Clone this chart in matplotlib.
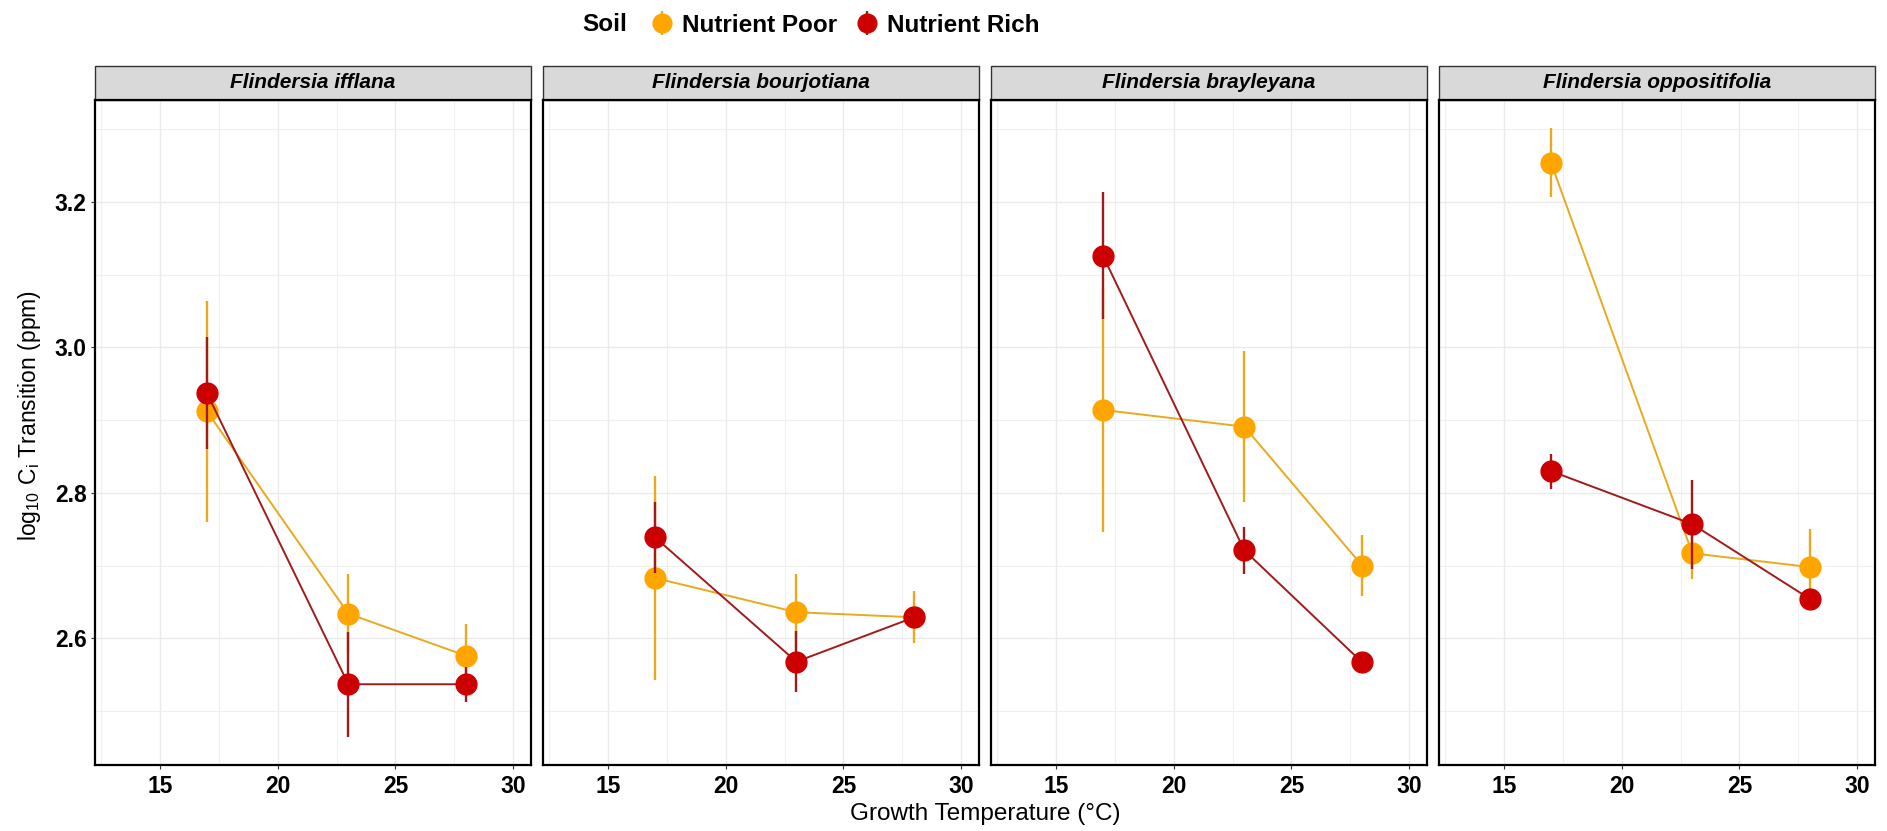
import matplotlib
matplotlib.use("Agg")
import matplotlib.pyplot as plt
from matplotlib.patches import Rectangle
from matplotlib.ticker import MultipleLocator

plt.rcParams['font.family'] = ['Liberation Sans', 'DejaVu Sans']
plt.rcParams['mathtext.default'] = 'regular'

# growth temperatures and species panels
temps = [17, 23, 28]
species = ['Flindersia ifflana', 'Flindersia bourjotiana',
           'Flindersia brayleyana', 'Flindersia oppositifolia']

# log10 Ci transition, mean and standard error per species (rows) and temperature
poor_mean = [[2.912, 2.634, 2.576],
             [2.683, 2.636, 2.629],
             [2.914, 2.891, 2.700],
             [3.254, 2.717, 2.698]]
poor_se = [[0.152, 0.054, 0.044],
           [0.140, 0.052, 0.036],
           [0.168, 0.104, 0.042],
           [0.047, 0.035, 0.052]]
rich_mean = [[2.937, 2.537, 2.537],
             [2.739, 2.568, 2.629],
             [3.126, 2.721, 2.567],
             [2.830, 2.757, 2.654]]
rich_se = [[0.077, 0.072, 0.024],
           [0.049, 0.042, 0.012],
           [0.087, 0.032, 0.005],
           [0.024, 0.061, 0.008]]

soil_labels = ['Nutrient Poor', 'Nutrient Rich']
point_cols = ['#FFA500', '#CC0000']
line_cols = ['#E8AA1E', '#A11B1B']

W, H = 1887, 831
fig = plt.figure(figsize=(W / 100, H / 100), dpi=100)

left0, pw, gap = 95, 436, 12
top, bottom = 100, 765
strip_h = 34

handles = []
for i, sp in enumerate(species):
    x0 = left0 + i * (pw + gap)
    ax = fig.add_axes([x0 / W, 1 - bottom / H, pw / W, (bottom - top) / H])
    series = [(poor_mean[i], poor_se[i]), (rich_mean[i], rich_se[i])]
    for k, (m, s) in enumerate(series):
        ax.plot(temps, m, color=line_cols[k], lw=1.4, zorder=2 + k)
        eb = ax.errorbar(temps, m, yerr=s, fmt='o', ms=15, mfc=point_cols[k],
                         mec=point_cols[k], ecolor=line_cols[k], elinewidth=1.7,
                         capsize=0, zorder=2.5 + k, label=soil_labels[k])
        if i == 0:
            handles.append(eb)

    ax.set_xlim(12.25, 30.75)
    ax.set_ylim(2.426, 3.34)
    ax.xaxis.set_major_locator(MultipleLocator(5))
    ax.xaxis.set_minor_locator(MultipleLocator(2.5))
    ax.yaxis.set_major_locator(MultipleLocator(0.2))
    ax.yaxis.set_minor_locator(MultipleLocator(0.1))
    ax.grid(True, which='major', color='#EBEBEB', lw=1.0)
    ax.grid(True, which='minor', color='#F0F0F0', lw=0.8)
    ax.set_axisbelow(True)
    ax.tick_params(which='minor', length=0)
    ax.tick_params(which='major', length=3, width=0.8, color='#333333',
                   labelsize=16.5, pad=3)
    ax.tick_params(axis='x', pad=4)
    for lab in ax.get_xticklabels() + ax.get_yticklabels():
        lab.set_fontweight('bold')
    if i > 0:
        ax.tick_params(axis='y', labelleft=False, length=0)
    for spine in ax.spines.values():
        spine.set_linewidth(1.6)
        spine.set_color('black')

    # facet strip
    frac = strip_h / (bottom - top)
    ax.add_patch(Rectangle((0, 1), 1, frac, transform=ax.transAxes,
                           facecolor='#D9D9D9', edgecolor='#333333', lw=1.0,
                           clip_on=False))
    ax.text(0.5, 1 + frac / 2, sp, transform=ax.transAxes, ha='center',
            va='center', fontsize=15, fontstyle='italic', fontweight='bold')

    if i == 0:
        ax.set_ylabel(r'$\mathregular{log_{10}\ C_{i}}$ Transition (ppm)',
                      fontsize=16.5)
        # centred on panel plus strip
        ax.yaxis.set_label_coords(-0.12, (1 + frac) / 2)

# axis title centred over the panel area
panels_mid = (left0 + 3 * (pw + gap) + pw + left0) / 2
fig.text(panels_mid / W, 1 - 814 / H, 'Growth Temperature (°C)', ha='center',
         va='center', fontsize=17.5)

fig.text(582 / W, 1 - 22 / H, 'Soil', ha='left', va='center_baseline',
         fontsize=17.5, fontweight='bold')
leg = fig.legend(handles=handles, labels=soil_labels, ncol=2, frameon=False,
                 loc='center left', bbox_to_anchor=(638 / W, 1 - 25 / H),
                 prop={'size': 17.5, 'weight': 'bold'}, handlelength=1.0,
                 handletextpad=0.3, columnspacing=0.75, borderpad=0,
                 markerscale=0.9)

fig.savefig('out.png', dpi=100)
